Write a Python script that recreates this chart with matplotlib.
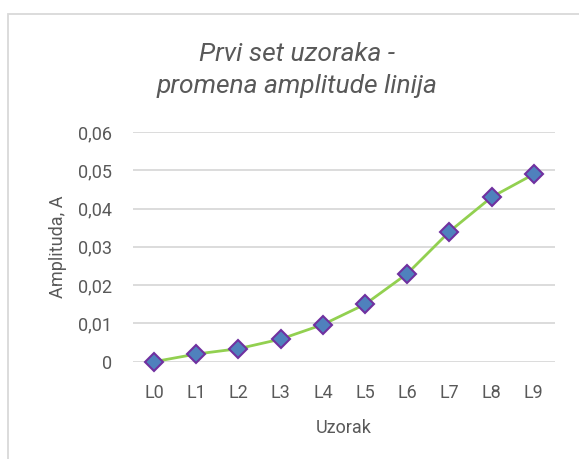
import matplotlib
matplotlib.use("Agg")
import matplotlib.pyplot as plt
from matplotlib.patches import Rectangle
from matplotlib.ticker import FuncFormatter

# ── Podaci ────────────────────────────────────────────────────────────────
uzorci = ["L0", "L1", "L2", "L3", "L4", "L5", "L6", "L7", "L8", "L9"]
amplitude = [0.0, 0.002, 0.0034, 0.0059, 0.0097, 0.015, 0.023, 0.034, 0.043, 0.049]
y_ticks = [0.0, 0.01, 0.02, 0.03, 0.04, 0.05, 0.06]

# ── Stil ──────────────────────────────────────────────────────────────────
C_TEXT = "#595959"
C_GRID = "#d9d9d9"
C_LINE = "#92d050"
C_MARK = "#4f81bd"
C_EDGE = "#7030a0"
FONT = ["Roboto", "DejaVu Sans"]

plt.rcParams["font.family"] = FONT

fig = plt.figure(figsize=(5.79, 4.59), dpi=100, facecolor="white")
ax = fig.add_axes([0.2297, 0.212, 0.7288, 0.5004])

x = list(range(len(uzorci)))
ax.plot(x, amplitude, color=C_LINE, linewidth=2.0, zorder=3,
        marker="D", markersize=9, markerfacecolor=C_MARK,
        markeredgecolor=C_EDGE, markeredgewidth=1.5, clip_on=False)

ax.set_xlim(-0.5, len(uzorci) - 0.5)
ax.set_ylim(0, 0.06)
ax.set_yticks(y_ticks)
ax.yaxis.set_major_formatter(
    FuncFormatter(lambda v, _: "0" if v == 0 else f"{v:.2f}".replace(".", ",")))
ax.set_xticks(x)
ax.set_xticklabels(uzorci)

ax.grid(axis="y", color=C_GRID, linewidth=1.3)
ax.set_axisbelow(True)
for s in ax.spines.values():
    s.set_visible(False)
ax.tick_params(length=0, colors=C_TEXT, labelsize=13)
ax.tick_params(axis="y", pad=15)
ax.tick_params(axis="x", pad=16)

ax.set_xlabel("Uzorak", color=C_TEXT, fontsize=13, labelpad=12)
ax.set_ylabel("Amplituda, A", color=C_TEXT, fontsize=13, labelpad=8)

fig.text(0.513, 1 - 70 / 459, "Prvi set uzoraka -\npromena amplitude linija",
         ha="center", va="center", fontsize=19, style="italic",
         color=C_TEXT, linespacing=1.4)

# okvir grafikona
fig.patches.append(Rectangle((8 / 579, -0.1), 1.1, 1.1 - 14 / 459,
                             transform=fig.transFigure, fill=False,
                             edgecolor=C_GRID, linewidth=1.3))

fig.savefig("out.png", dpi=100, facecolor="white")
